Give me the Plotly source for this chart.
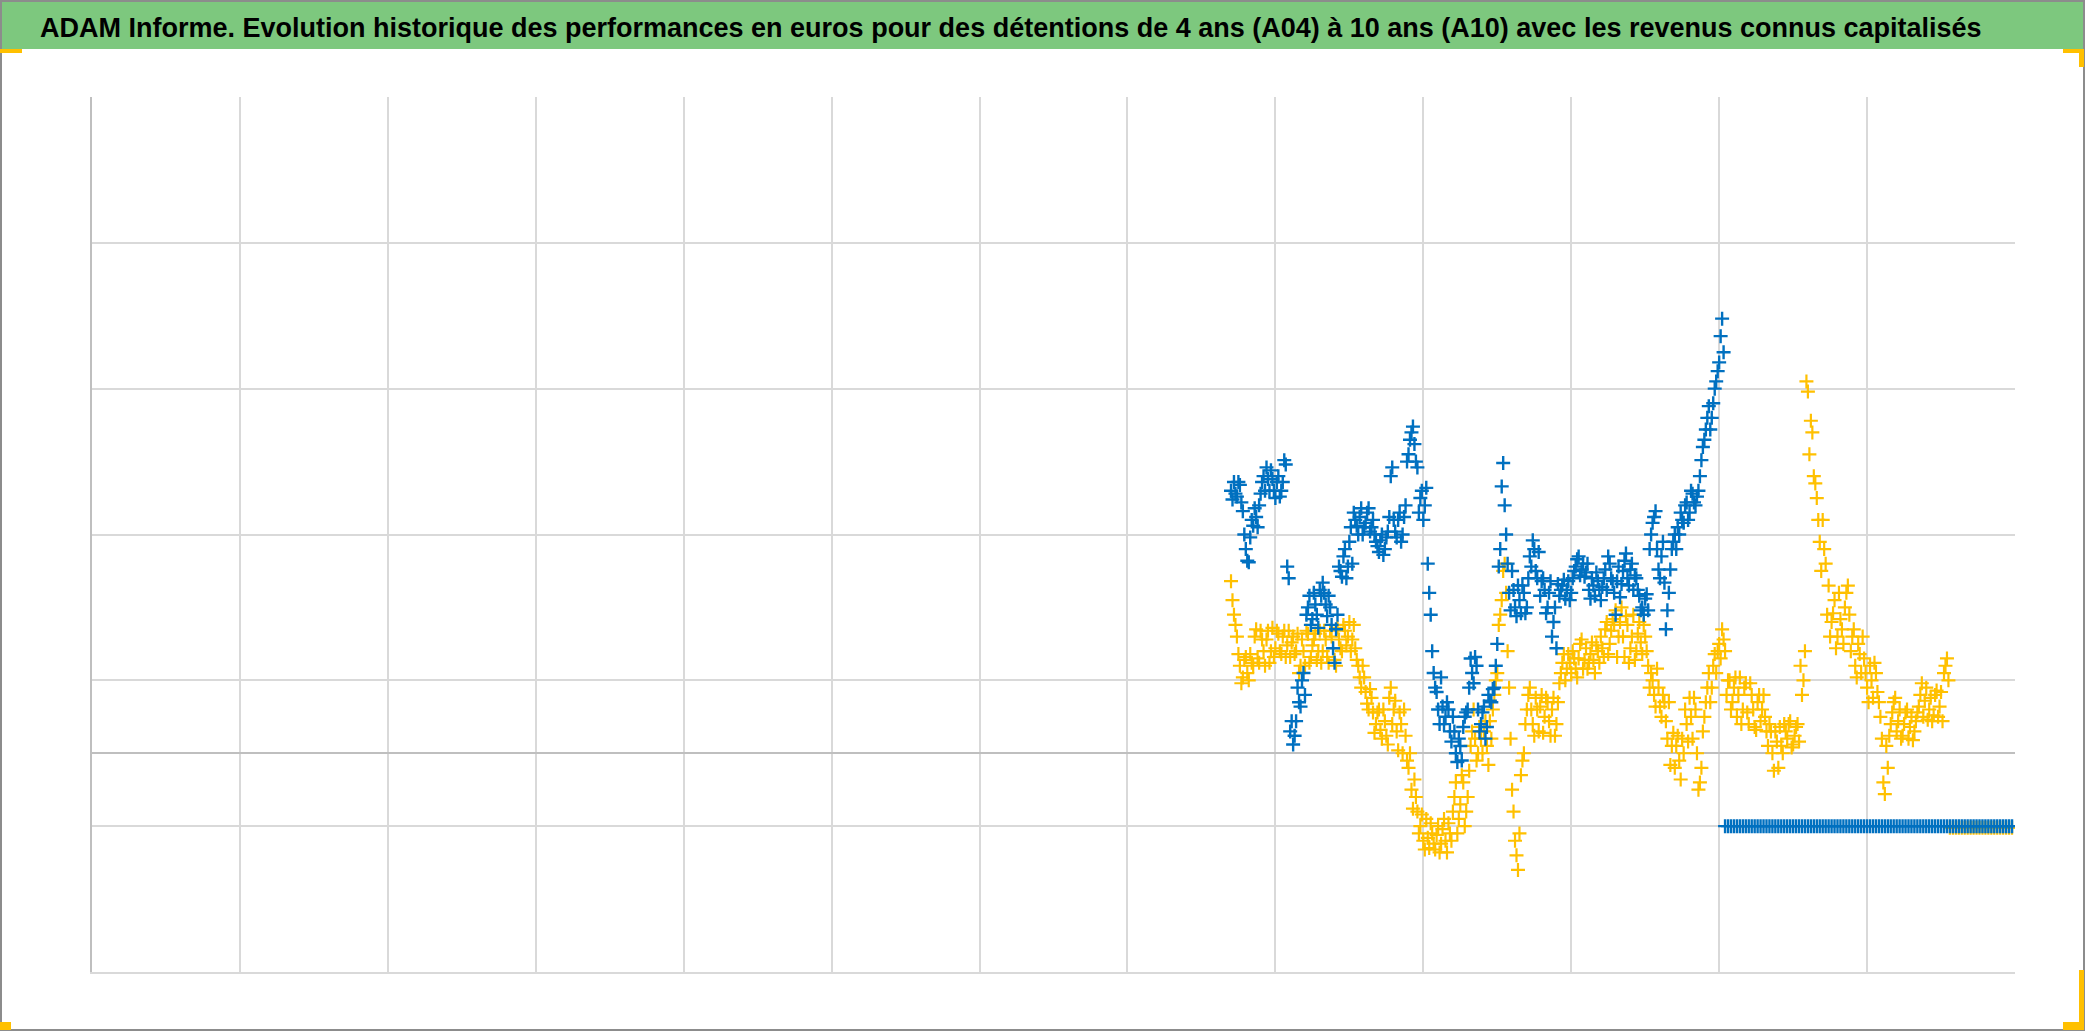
import numpy as np
import plotly.graph_objects as go

# ---------------- data ----------------
# x position measured in gridline intervals (13 intervals across the axis)
x_step = 0.02

# A10 (yellow): values at x = 7.70 + 0.02*i and at x = 7.71 + 0.02*i
yellow_start = 7.70
yellow_a10 = [
    118, 95, 80, 60, 52, 66, 50, 62, 80, 65,
    84, 70, 78, 62, 86, 72, 82, 68, 84, 74,
    66, 80, 70, 55, 78, 60, 82, 66, 78, 64,
    84, 70, 78, 62, 80, 64, 86, 72, 88, 74,
    90, 78, 72, 60, 45, 52, 34, 44, 28, 20,
    30, 10, 22, 6, 45, 30, 15, 28, 0, 12,
    -10, -25, -18, -40, -50, -60, -45, -65, -55, -66,
    -50, -62, -45, -68, -55, -40, -20, -45, -15, -50,
    -30, 5, 30, -5, 18, 0, 22, -8, 10, 40,
    55, 95, 125, 110, 45, -25, -60, -80, -15, 0,
    30, 45, 20, 38, 15, 40, 25, 35, 12, 38,
    20, 48, 62, 50, 68, 55, 65, 52, 75, 58,
    72, 62, 76, 55, 70, 80, 66, 90, 75, 92,
    98, 80, 100, 66, 88, 72, 95, 70, 90, 68,
    80, 60, 55, 40, 58, 32, 40, 22, 35, 5,
    -10, 12, -18, 0, 20, 38, 10, 30, -25, -10,
    25, 45, 35, 60, 55, 75, 85, 70, 50, 30,
    45, 25, 52, 30, 48, 20, 40, 18, 35, 22,
    40, 15, 20, 0, 15, -10, 5, 20, 10, 22,
    6, 18, 8, 40, 70, 248, 228, 190, 175, 145,
    160, 130, 115, 90, 105, 80, 92, 75, 110, 95,
    80, 60, 75, 55, 65, 45, 60, 38, 55, 35,
    10, -28, -10, 20, 35, 15, 30, 12, 28, 10,
    25, 15, 28, 40, 25, 45, 30, 22, 40, 25,
    42, 55, 65,
]
yellow_a10_b = [
    105, 88, 68, 48, 64, 55, 68, 60, 85, 62,
    78, 60, 84, 70, 66, 84, 70, 80, 66, 84,
    76, 68, 82, 60, 70, 84, 62, 74, 82, 70,
    62, 84, 66, 84, 72, 60, 78, 70, 84, 80,
    70, 88, 64, 52, 60, 42, 30, 38, 14, 28,
    16, 30, 12, 38, 20, 36, 2, 20, 30, -5,
    0, -38, -30, -55, -42, -66, -58, -48, -62, -56,
    -68, -52, -60, -48, -60, -30, -55, -35, -20, -40,
    -12, 15, 10, 0, 10, 15, 5, 22, 30, 50,
    88, 105, 130, 70, 10, -40, -70, -55, -5, 20,
    40, 30, 12, 30, 32, 14, 38, 22, 30, 12,
    35, 55, 68, 58, 62, 70, 58, 65, 78, 64,
    58, 68, 64, 74, 62, 72, 85, 68, 84, 88,
    66, 90, 80, 94, 62, 80, 64, 82, 76, 88,
    70, 45, 50, 32, 45, 25, 35, 10, -8, 14,
    5, -5, 10, 30, 8, 25, 38, 0, -20, 15,
    35, 55, 45, 68, 70, 65, 78, 40, 50, 35,
    52, 40, 20, 45, 28, 48, 30, 16, 40, 30,
    25, 5, 15, -12, 8, 18, 0, 15, 20, 4,
    12, 20, 60, 50, 255, 205, 220, 185, 160, 125,
    140, 95, 80, 96, 72, 110, 85, 100, 115, 70,
    85, 52, 68, 80, 55, 35, 50, 62, 42, 25,
    -20, 5, 12, 28, 38, 22, 10, 20, 30, 18,
    9, 22, 32, 48, 36, 23, 38, 26, 43, 32,
    22, 60, 50,
]
yellow_tail_start = 12.56
yellow_tail = [-51] * 22          # step 0.02

# A04 (blue): values at x = 7.70 + 0.02*i and at x = 7.71 + 0.02*i
blue_start = 7.70
blue_a04 = [
    180, 186, 176, 184, 166, 140, 131, 160, 168, 155,
    178, 190, 196, 180, 188, 175, 190, 180, 201, 128,
    15, 6, 22, 35, 50, 40, 100, 88, 110, 95,
    112, 117, 102, 108, 88, 62, 95, 125, 135, 120,
    145, 130, 160, 150, 168, 155, 165, 152, 160, 145,
    138, 150, 140, 152, 190, 160, 148, 165, 150, 170,
    205, 220, 212, 196, 175, 160, 182, 110, 70, 45,
    30, 52, 20, 35, 15, 25, 0, 10, -5, 25,
    30, 65, 48, 60, 15, 28, 10, 40, 35, 45,
    75, 140, 199, 150, 110, 125, 100, 115, 96, 110,
    100, 135, 146, 125, 138, 118, 112, 100, 118, 90,
    72, 108, 115, 106, 118, 110, 125, 133, 122, 130,
    124, 112, 120, 108, 118, 105, 120, 112, 130, 118,
    95, 128, 116, 132, 120, 126, 112, 120, 108, 100,
    106, 98, 150, 162, 140, 120, 145, 85, 110, 140,
    150, 155, 165, 158, 172, 165, 178, 170, 180, 201,
    215, 230, 222, 240, 255, 268, 298,
]
blue_a04_b = [
    174, 178, 186, 172, 150, 132, 148, 156, 162, 170,
    186, 180, 188, 194, 180, 186, 176, 186, 198, 120,
    22, 12, 45, 32, 55, 95, 108, 92, 102, 86,
    108, 110, 94, 100, 72, 85, 128, 121, 140, 128,
    155, 165, 156, 162, 150, 158, 168, 155, 150, 142,
    146, 136, 148, 162, 196, 152, 160, 145, 162, 200,
    215, 224, 200, 165, 180, 170, 130, 95, 55, 42,
    20, 32, 25, 30, 8, 15, -6, 5, 18, 28,
    45, 55, 66, 30, 20, 32, 18, 36, 44, 60,
    128, 183, 170, 130, 98, 112, 94, 105, 115, 96,
    120, 128, 140, 120, 108, 120, 96, 110, 80, 100,
    116, 112, 119, 112, 105, 120, 128, 135, 126, 121,
    130, 106, 115, 124, 112, 114, 126, 135, 120, 110,
    118, 107, 125, 137, 115, 130, 122, 112, 98, 95,
    109, 140, 158, 166, 126, 135, 117, 98, 126, 145,
    140, 150, 160, 170, 160, 180, 172, 176, 190, 210,
    222, 238, 230, 250, 262, 286, 275,
]
blue_tail_start = 11.04
blue_tail = [-50] * 98            # step 0.02

# axis settings
x_range = [0, 13]
y_range = [-150, 450]
y_tick0 = -150
y_dtick = 100

title_text = ("ADAM Informe. Evolution historique des performances en euros pour des "
              "détentions de 4 ans (A04) à 10 ans (A10) avec les revenus connus capitalisés")

# ---------------- figure ----------------
W, H = 2086, 1031
L, R, T, B = 92, 2015, 97, 972
PW, PH = R - L, B - T


def pxx(x):
    return (x - L) / PW


def pxy(y):
    return (B - y) / PH


def xs(start, n, step=x_step):
    return start + step * np.arange(n)


def series_xy(start, a, b, tail_start, tail):
    x = np.concatenate([xs(start, len(a)), xs(start + x_step / 2, len(b)), xs(tail_start, len(tail))])
    y = list(a) + list(b) + list(tail)
    return x, y


fig = go.Figure()

yellow = "#FFC000"
blue = "#0070C0"

yx, yy = series_xy(yellow_start, yellow_a10, yellow_a10_b, yellow_tail_start, yellow_tail)
bx, by = series_xy(blue_start, blue_a04, blue_a04_b, blue_tail_start, blue_tail)

fig.add_trace(go.Scatter(
    x=yx, y=yy, mode="markers", name="A10",
    marker=dict(symbol="cross-thin", size=10, line=dict(color=yellow, width=2.2), color=yellow),
))
fig.add_trace(go.Scatter(
    x=bx, y=by, mode="markers", name="A04",
    marker=dict(symbol="cross-thin", size=10, line=dict(color=blue, width=2.4), color=blue),
))

shapes = []
# green title band
shapes.append(dict(type="rect", xref="paper", yref="paper",
                   x0=pxx(0), x1=pxx(2084), y0=pxy(49), y1=pxy(0),
                   fillcolor="#7DC87E", line=dict(width=0), layer="below"))
# outer border
shapes.append(dict(type="rect", xref="paper", yref="paper",
                   x0=pxx(1), x1=pxx(2084), y0=pxy(1030), y1=pxy(1),
                   fillcolor="rgba(0,0,0,0)", line=dict(color="#8C8C8C", width=2)))
# selection handles (yellow)
for (x0, y0, x1, y1) in [
    (0, 49, 22, 53), (2063, 49, 2084, 53), (2079, 49, 2084, 67),
    (0, 1022, 11, 1030), (2063, 1022, 2084, 1030), (2079, 970, 2084, 1030),
]:
    shapes.append(dict(type="rect", xref="paper", yref="paper",
                       x0=pxx(x0), x1=pxx(x1), y0=pxy(y1), y1=pxy(y0),
                       fillcolor=yellow, line=dict(width=0)))

fig.update_layout(
    width=W, height=H,
    margin=dict(l=L, r=W - R, t=T, b=H - B, pad=0),
    paper_bgcolor="white", plot_bgcolor="white",
    showlegend=False,
    shapes=shapes,
    annotations=[dict(
        text="<b>" + title_text + "</b>", xref="paper", yref="paper",
        x=pxx(1011), y=pxy(28), xanchor="center", yanchor="middle",
        showarrow=False,
        font=dict(family="Liberation Sans, Arial, sans-serif", size=27, color="black"),
    )],
    xaxis=dict(range=x_range, tick0=0, dtick=1, showgrid=True, gridcolor="#D9D9D9", gridwidth=1.5,
               showticklabels=False, ticks="", zeroline=False,
               showline=True, linecolor="#D9D9D9", linewidth=2, mirror=False),
    yaxis=dict(range=y_range, tick0=y_tick0, dtick=y_dtick, showgrid=True, gridcolor="#D9D9D9",
               gridwidth=1.5, showticklabels=False, ticks="",
               zeroline=True, zerolinecolor="#BFBFBF", zerolinewidth=2,
               showline=True, linecolor="#BFBFBF", linewidth=2, mirror=False),
)

fig.write_html("out.html", config={"displayModeBar": False},
               post_script="document.body.style.margin='0';")
